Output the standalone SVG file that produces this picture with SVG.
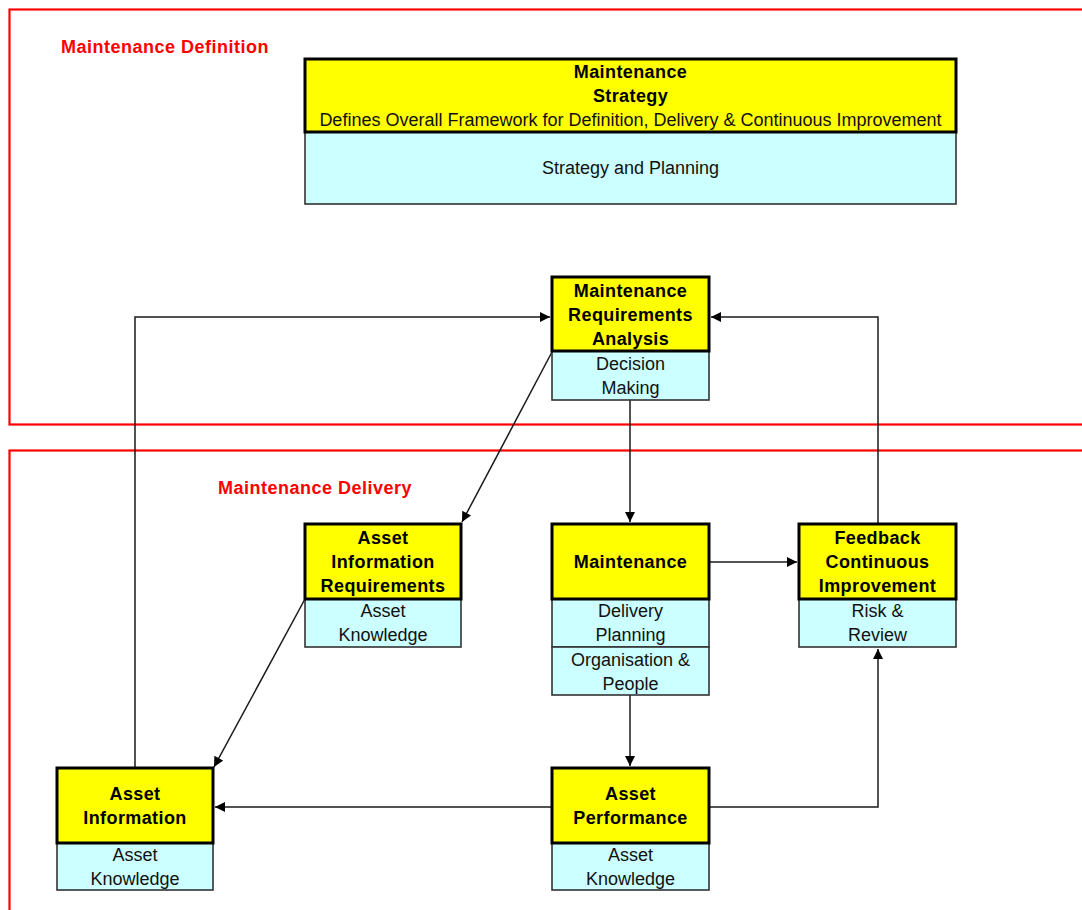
<svg xmlns="http://www.w3.org/2000/svg" width="1082" height="910" viewBox="0 0 1082 910">
<style>
text{font-family:"Liberation Sans",Arial,sans-serif;text-anchor:middle;fill:#000}
.b{font-size:18px;font-weight:bold;letter-spacing:0.4px}
.r{font-size:18px;fill:#111}
.lbl{font-size:18px;font-weight:bold;fill:#ff0000;text-anchor:start;letter-spacing:0.5px}
.y{fill:#ffff00;stroke:#000;stroke-width:3}
.c{fill:#ccffff;stroke:#333;stroke-width:1.6}
.frame{fill:none;stroke:#ff0000;stroke-width:2.2}
.con{fill:none;stroke:#1a1a1a;stroke-width:1.5}
</style>
<defs>
<marker id="ah" viewBox="0 0 10 10" refX="10" refY="5" markerWidth="12" markerHeight="10" markerUnits="userSpaceOnUse" orient="auto">
<path d="M0,0 L10,5 L0,10 z" fill="#000"/>
</marker>
</defs>
<rect width="1082" height="910" fill="#fff"/>
<g id="frames">
<rect class="frame" x="9.5" y="9.5" width="1090" height="415"/>
<rect class="frame" x="9.5" y="450.5" width="1090" height="480"/>
<text class="lbl" x="61" y="53">Maintenance Definition</text>
<text class="lbl" x="218" y="494">Maintenance Delivery</text>
</g>
<g id="connectors">
<path class="con" d="M135,768 V317 H550" marker-end="url(#ah)"/>
<path class="con" d="M878,523 V317 H711" marker-end="url(#ah)"/>
<path class="con" d="M552,352 L462,522" marker-end="url(#ah)"/>
<path class="con" d="M630,400 V522" marker-end="url(#ah)"/>
<path class="con" d="M709,562 H797" marker-end="url(#ah)"/>
<path class="con" d="M305,599 L214,767" marker-end="url(#ah)"/>
<path class="con" d="M630,695 V766" marker-end="url(#ah)"/>
<path class="con" d="M552,807 H215" marker-end="url(#ah)"/>
<path class="con" d="M709,807 H878 V649" marker-end="url(#ah)"/>
</g>
<g id="strategy">
<rect class="c" x="305" y="132" width="651" height="72"/>
<rect class="y" x="305" y="59" width="651" height="73"/>
<text class="b" x="630.5" y="77.5">Maintenance</text>
<text class="b" x="630.5" y="101.5">Strategy</text>
<text class="r" x="630.5" y="126">Defines Overall Framework for Definition, Delivery &amp; Continuous Improvement</text>
<text class="r" x="630.5" y="174">Strategy and Planning</text>
</g>
<g id="mra">
<rect class="c" x="552" y="351" width="157" height="49"/>
<rect class="y" x="552" y="277" width="157" height="74"/>
<text class="b" x="630.5" y="297">Maintenance</text>
<text class="b" x="630.5" y="321">Requirements</text>
<text class="b" x="630.5" y="345">Analysis</text>
<text class="r" x="630.5" y="370">Decision</text>
<text class="r" x="630.5" y="394">Making</text>
</g>
<g id="air">
<rect class="c" x="305" y="599" width="156" height="48"/>
<rect class="y" x="305" y="524" width="156" height="75"/>
<text class="b" x="383" y="543.5">Asset</text>
<text class="b" x="383" y="567.5">Information</text>
<text class="b" x="383" y="591.5">Requirements</text>
<text class="r" x="383" y="617">Asset</text>
<text class="r" x="383" y="641">Knowledge</text>
</g>
<g id="maintenance">
<rect class="c" x="552" y="599" width="157" height="48"/>
<rect class="c" x="552" y="647" width="157" height="48"/>
<rect class="y" x="552" y="524" width="157" height="75"/>
<text class="b" x="630.5" y="567.5">Maintenance</text>
<text class="r" x="630.5" y="617">Delivery</text>
<text class="r" x="630.5" y="641">Planning</text>
<text class="r" x="630.5" y="665.5">Organisation &amp;</text>
<text class="r" x="630.5" y="689.5">People</text>
</g>
<g id="feedback">
<rect class="c" x="799" y="599" width="157" height="48"/>
<rect class="y" x="799" y="524" width="157" height="75"/>
<text class="b" x="877.5" y="543.5">Feedback</text>
<text class="b" x="877.5" y="567.5">Continuous</text>
<text class="b" x="877.5" y="591.5">Improvement</text>
<text class="r" x="877.5" y="617">Risk &amp;</text>
<text class="r" x="877.5" y="641">Review</text>
</g>
<g id="asset-information">
<rect class="c" x="57" y="843" width="156" height="47"/>
<rect class="y" x="57" y="768" width="156" height="75"/>
<text class="b" x="135" y="800">Asset</text>
<text class="b" x="135" y="824">Information</text>
<text class="r" x="135" y="861">Asset</text>
<text class="r" x="135" y="885">Knowledge</text>
</g>
<g id="asset-performance">
<rect class="c" x="552" y="843" width="157" height="47"/>
<rect class="y" x="552" y="768" width="157" height="75"/>
<text class="b" x="630.5" y="800">Asset</text>
<text class="b" x="630.5" y="824">Performance</text>
<text class="r" x="630.5" y="861">Asset</text>
<text class="r" x="630.5" y="885">Knowledge</text>
</g>
</svg>
